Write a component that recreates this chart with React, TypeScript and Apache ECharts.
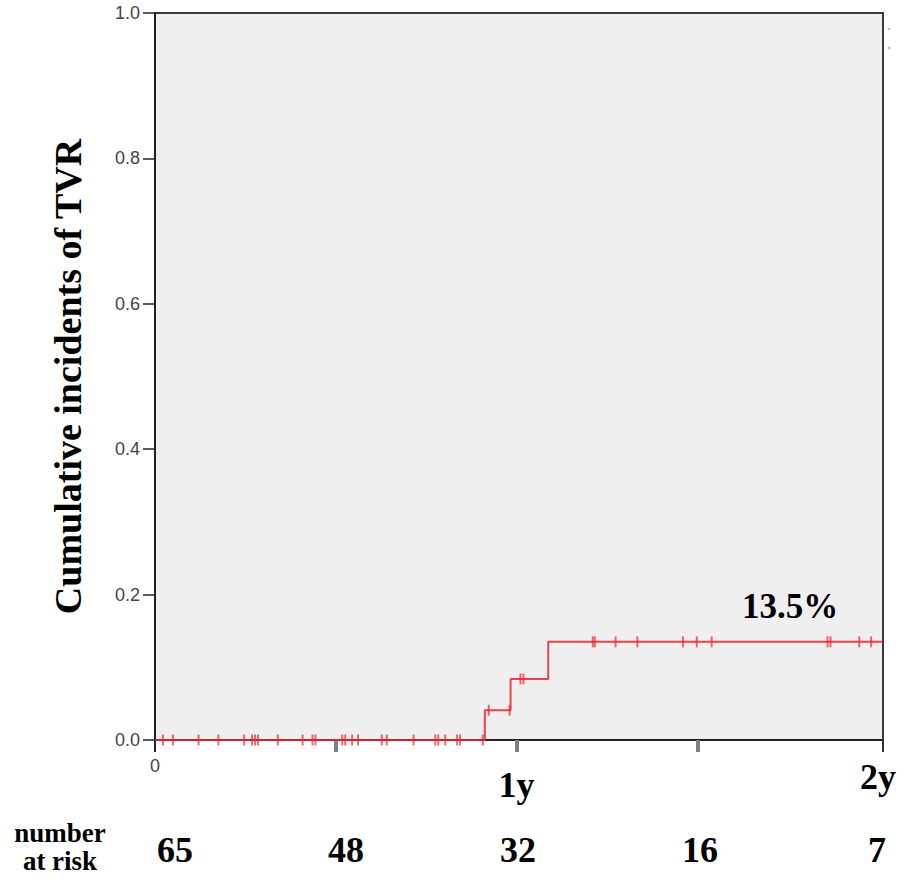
import React, { useEffect, useRef } from "react";
import * as echarts from "echarts";

// Kaplan-Meier style cumulative incidence (time in days)
const eventTimes = [0, 333, 359, 397, 735];
const eventValues = [0, 0.041, 0.084, 0.135, 0.135];
const censorTimes = [
  8, 18, 44, 64, 90, 98, 101, 104, 124, 149, 159, 162, 189, 192, 199, 205, 229, 234, 261, 283, 286,
  293, 305, 308, 331, 337, 358, 369, 372, 442, 444, 465, 487, 533, 547, 562, 679, 682, 711, 723,
];
const strayTimes = [741, 741];
const strayValues = [0.978, 0.952];
const xLabelValues = [0, 365, 730];
const xLabelTexts = ["0", "1y", "2y"];
const halfYearTicks = [182.5, 365, 547.5];
const atRisk = [65, 48, 32, 16, 7];
const atRiskX = [175, 346, 518, 700, 877];
const atRiskTitleLines = ["number", "at risk"];
const atRiskTitleY = [833, 861];
const finalLabel = "13.5%";
const yTitle = "Cumulative incidents of TVR";

const RED = "rgba(235,35,45,0.85)";
const SERIF = "'Liberation Serif', 'Times New Roman', serif";
const SANS = "'Liberation Sans', Arial, sans-serif";

function valueAt(t: number): number {
  let v = 0;
  for (let i = 0; i < eventTimes.length; i++) {
    if (eventTimes[i] <= t) v = eventValues[i];
  }
  return v;
}

export default function App() {
  const ref = useRef<HTMLDivElement>(null);
  useEffect(() => {
    if (!ref.current) return;
    const chart = echarts.init(ref.current, undefined, { renderer: "svg" });
    const option: any = {
      animation: false,
      backgroundColor: "#ffffff",
      grid: {
        left: 155,
        top: 13,
        right: 21,
        bottom: 143,
        show: true,
        backgroundColor: "#efefef",
        borderColor: "#3a3a3a",
        borderWidth: 2,
      },
      xAxis: [
        {
          type: "value",
          min: 0,
          max: 735,
          splitLine: { show: false },
          axisLine: { show: true, lineStyle: { color: "#222", width: 2 } },
          axisTick: {
            show: true,
            customValues: halfYearTicks,
            length: 12,
            lineStyle: { color: "#808080", width: 4 },
          },
          axisLabel: {
            show: true,
            customValues: xLabelValues,
            margin: 17,
            formatter: (v: number) => {
              const i = xLabelValues.indexOf(v);
              if (i === 0) return "{zero|" + xLabelTexts[0] + "}";
              if (i === 1) return "{one|" + xLabelTexts[1] + "}";
              if (i === 2) return "{two|" + xLabelTexts[2] + "}";
              return "";
            },
            rich: {
              zero: { fontFamily: SANS, fontSize: 18, color: "#444" },
              one: { fontFamily: SERIF, fontSize: 36, fontWeight: "bold", color: "#000", padding: [10, 0, 0, 0] },
              two: { fontFamily: SERIF, fontSize: 36, fontWeight: "bold", color: "#000", padding: [2, 0, 0, 0] },
            },
          },
        },
        {
          type: "value",
          min: 0,
          max: 735,
          position: "bottom",
          splitLine: { show: false },
          axisLine: { show: false },
          axisTick: {
            show: true,
            customValues: [0],
            length: 12,
            lineStyle: { color: "#222", width: 2 },
          },
          axisLabel: { show: false },
        },
      ],
      yAxis: {
        type: "value",
        min: 0,
        max: 1,
        interval: 0.2,
        splitLine: { show: false },
        axisLine: { show: true, lineStyle: { color: "#222", width: 2 } },
        axisTick: { show: true, length: 12, lineStyle: { color: "#222", width: 1.5 } },
        axisLabel: {
          fontFamily: SANS,
          fontSize: 18,
          color: "#444",
          margin: 15,
          formatter: (v: number) => v.toFixed(1),
        },
        name: yTitle,
        nameLocation: "middle",
        nameGap: 68,
        nameRotate: 90,
        nameTextStyle: { fontFamily: SERIF, fontSize: 38, fontWeight: "bold", color: "#000" },
      },
      series: [
        {
          type: "line",
          step: "end",
          symbol: "none",
          data: eventTimes.map((t, i) => [t, eventValues[i]]),
          lineStyle: { color: RED, width: 2 },
          z: 3,
        },
        {
          type: "scatter",
          symbol: "rect",
          symbolSize: [2, 11],
          data: censorTimes.map((t) => [t, valueAt(t)]),
          itemStyle: { color: RED },
          z: 4,
        },
        {
          type: "scatter",
          symbol: "circle",
          symbolSize: 2.5,
          clip: false,
          data: strayTimes.map((t, i) => [t, strayValues[i]]),
          itemStyle: { color: "rgba(235,60,70,0.6)" },
        },
      ],
      graphic: [
        {
          type: "line",
          shape: { x1: 883, y1: 740, x2: 883, y2: 752 },
          style: { stroke: "#333", lineWidth: 2 },
        },
        {
          type: "text",
          x: 790,
          y: 606,
          style: {
            text: finalLabel,
            font: `bold 35px ${SERIF}`,
            fill: "#000",
            align: "center",
            verticalAlign: "middle",
          },
        },
        ...atRiskTitleLines.map((s, i) => ({
          type: "text",
          x: 60,
          y: atRiskTitleY[i],
          style: {
            text: s,
            font: `bold 27px ${SERIF}`,
            fill: "#000",
            align: "center",
            verticalAlign: "middle",
          },
        })),
        ...atRisk.map((n, i) => ({
          type: "text",
          x: atRiskX[i],
          y: 850,
          style: {
            text: String(n),
            font: `bold 36px ${SERIF}`,
            fill: "#000",
            align: "center",
            verticalAlign: "middle",
          },
        })),
      ],
    };
    chart.setOption(option);
    return () => chart.dispose();
  }, []);
  return (
    <div
      ref={ref}
      style={{ position: "fixed", left: 0, top: 0, width: 904, height: 883, background: "#fff" }}
    />
  );
}
